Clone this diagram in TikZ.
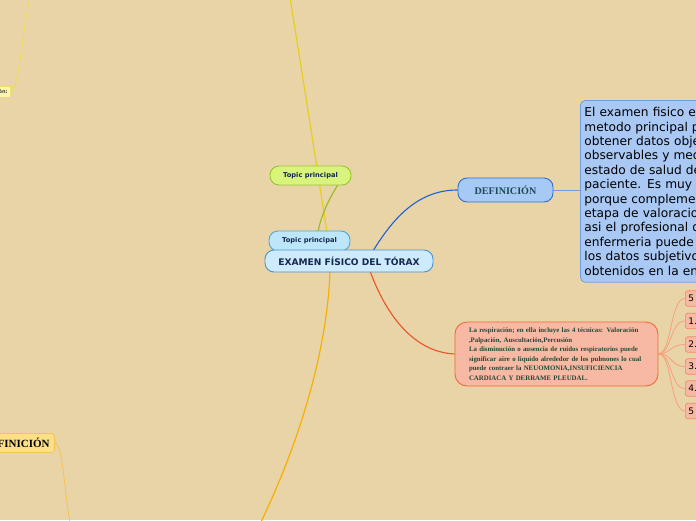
\documentclass[tikz,border=0pt]{standalone}
\usepackage{fontspec}
\setmainfont{Liberation Serif}
\setsansfont{DejaVu Sans}
\usetikzlibrary{backgrounds}
\definecolor{bg}{HTML}{E9D4A8}
\definecolor{navy}{HTML}{15284F}
\definecolor{tealtxt}{HTML}{1B4A55}
\definecolor{dgreen}{HTML}{1F4A35}
\definecolor{mainfill}{HTML}{CDEBFC}
\definecolor{maindraw}{HTML}{4C93C9}
\definecolor{tbfill}{HTML}{BDE6FB}
\definecolor{tbdraw}{HTML}{4AA7DF}
\definecolor{tgfill}{HTML}{D8F47C}
\definecolor{tgdraw}{HTML}{97C431}
\definecolor{deffill}{HTML}{A7C9F5}
\definecolor{defdraw}{HTML}{2F6FCF}
\definecolor{txtfill}{HTML}{A9C8F4}
\definecolor{txtdraw}{HTML}{6E9DE0}
\definecolor{pinkfill}{HTML}{F8B9A4}
\definecolor{pinkdraw}{HTML}{F06838}
\definecolor{smalldraw}{HTML}{F08A68}
\definecolor{ldeffill}{HTML}{FDDF8A}
\definecolor{ldefdraw}{HTML}{F3C454}
\definecolor{tlfill}{HTML}{FDF6B0}
\definecolor{tldraw}{HTML}{F0E05A}
\definecolor{lyellow}{HTML}{E6CE1E}
\definecolor{lorange}{HTML}{F6B000}
\definecolor{lgreen}{HTML}{97BB22}
\definecolor{lblue}{HTML}{1C62D2}
\definecolor{lbluegray}{HTML}{6E9DD8}
\definecolor{lred}{HTML}{F05022}
\definecolor{lfan}{HTML}{F7A07E}
\definecolor{ltl}{HTML}{EEDD55}
\tikzset{
  x=1pt, y=-1pt,
  pill/.style={draw, rounded corners=9pt, line width=0.9pt, inner sep=0pt, text=navy},
  mainbox/.style={pill, fill=mainfill, draw=maindraw, minimum width=168pt, minimum height=22pt, font=\sffamily\bfseries\fontsize{9.1}{10}\selectfont},
  topicblue/.style={pill, fill=tbfill, draw=tbdraw, minimum width=81pt, minimum height=20pt, font=\sffamily\bfseries\fontsize{6.7}{7}\selectfont},
  topicgreen/.style={pill, fill=tgfill, draw=tgdraw, minimum width=81pt, minimum height=19pt, font=\sffamily\bfseries\fontsize{6.7}{7}\selectfont},
  defbox/.style={draw=defdraw, fill=deffill, rounded corners=9pt, line width=0.9pt, minimum width=95pt, minimum height=24pt, inner sep=0pt, text=tealtxt, font=\rmfamily\bfseries\fontsize{10.1}{11}\selectfont},
  textbox/.style={draw=txtdraw, fill=txtfill, rounded corners=5pt, line width=0.8pt, anchor=north west, minimum height=180pt, text width=200pt, align=left, inner xsep=4pt, inner ysep=7pt, font=\sffamily\fontsize{12.2}{14.4}\selectfont, text=black},
  pinkbox/.style={draw=pinkdraw, fill=pinkfill, rounded corners=12pt, line width=0.9pt, minimum width=203pt, minimum height=64pt, text width=175pt, align=left, inner sep=0pt, text=dgreen, font=\rmfamily\bfseries\fontsize{6.85}{9.5}\selectfont},
  smallbox/.style={draw=smalldraw, fill=pinkfill, rounded corners=2.5pt, line width=0.7pt, anchor=west, minimum width=30pt, minimum height=15.5pt, inner xsep=3pt, text width=24pt, align=left, font=\sffamily\fontsize{9}{10}\selectfont, text=black},
  leftdef/.style={draw=ldefdraw, fill=ldeffill, rounded corners=3pt, line width=0.8pt, anchor=east, minimum height=19pt, inner xsep=5pt, text=black, font=\rmfamily\bfseries\fontsize{11}{12}\selectfont},
  tlbox/.style={draw=tldraw, fill=tlfill, rounded corners=2pt, line width=0.7pt, anchor=east, minimum height=11pt, inner xsep=3pt, text=black!75, font=\sffamily\bfseries\fontsize{5}{6}\selectfont},
  fan/.style={draw=lfan, line width=0.8pt},
}
\begin{document}
\begin{tikzpicture}
\clip (0,0) rectangle (696,520);
\useasboundingbox (0,0) rectangle (696,520);

% nodes
\node[topicgreen] (tgreen) at (310.5,175.5) {Topic principal};
\node[topicblue] (tblue) at (309.5,241) {Topic principal};
\node[mainbox] (main) at (349,261) {EXAMEN FÍSICO DEL TÓRAX};
\node[defbox] (def) at (505.5,190) {DEFINICIÓN};
\node[textbox] (txt) at (580,100) {El examen fisico es el\\metodo principal para\\obtener datos objetivos\\observables y medibles del\\estado de salud del\\paciente. Es muy importante\\porque complementa la\\etapa de valoracion,\\asi el profesional de\\enfermeria puede confirmar\\los datos subjetivos\\obtenidos en la entrevista.};
\node[pinkbox] (resp) at (556.5,354) {La respiración; en ella incluye las 4 técnicas: Valoración\\,Palpación, Auscultación,Percusión\\La disminución o ausencia de ruidos respiratorios puede\\significar aire o liquido alrededor de los pulmones lo cual\\puede contraer la NEUOMONIA,INSUFICIENCIA\\CARDIACA Y DERRAME PLEUDAL.};
\node[smallbox] (k1) at (685,298.5) {5};
\node[smallbox] (k2) at (685,321) {1.};
\node[smallbox] (k3) at (685,344.5) {2.};
\node[smallbox] (k4) at (685,366.5) {3.};
\node[smallbox] (k5) at (685,388.5) {4.};
\node[smallbox] (k6) at (685,411) {5};
\node[leftdef] (ldef) at (55,443) {DEFINICIÓN};
\node[tlbox] (tl) at (11,92) {Definición:};

\coordinate (ytop) at (290,-2);
\coordinate (yend) at (331,258);
\coordinate (obot) at (261,522);
\coordinate (ostart) at (330,270);
\coordinate (gstart) at (339,183);
\coordinate (gend) at (318,232);
\coordinate (bstart) at (373,251);
\coordinate (rstart) at (370,271);
\coordinate (lbot) at (70,522);
\coordinate (tltop) at (30,-2);

\begin{pgfonlayer}{background}
\fill[bg] (0,0) rectangle (696,520);
% yellow top
\draw[draw=lyellow, line width=1.2pt] (ytop) .. controls (305,90) and (322,200) .. (yend);
% orange bottom
\draw[draw=lorange, line width=1.2pt] (ostart) .. controls (328,340) and (305,430) .. (obot);
% green
\draw[draw=lgreen, line width=1.1pt] (gstart) .. controls (330,197) and (321,215) .. (gend);
% blue
\draw[draw=lblue, line width=1.1pt] (bstart) .. controls (395,215) and (420,190) .. (def.west);
% def to text
\draw[draw=lbluegray, line width=0.7pt] (def.east) -- (txt.west |- def.east);
% red
\draw[draw=lred, line width=1.1pt] (rstart) .. controls (385,312) and (412,352) .. (resp.west);
% fan
\foreach \k in {k1,k2,k3,k4,k5,k6}{
  \draw[fan] (resp.east) .. controls (672,353) and (670,0 |- \k.west) .. (\k.west);
}
% left
\draw[draw=ldefdraw, line width=0.8pt] (ldef.east) .. controls (63,445) and (64,490) .. (lbot);
\draw[draw=ltl, line width=0.8pt] (tl.east) .. controls (20,85) and (22,30) .. (tltop);
\end{pgfonlayer}
\end{tikzpicture}
\end{document}
